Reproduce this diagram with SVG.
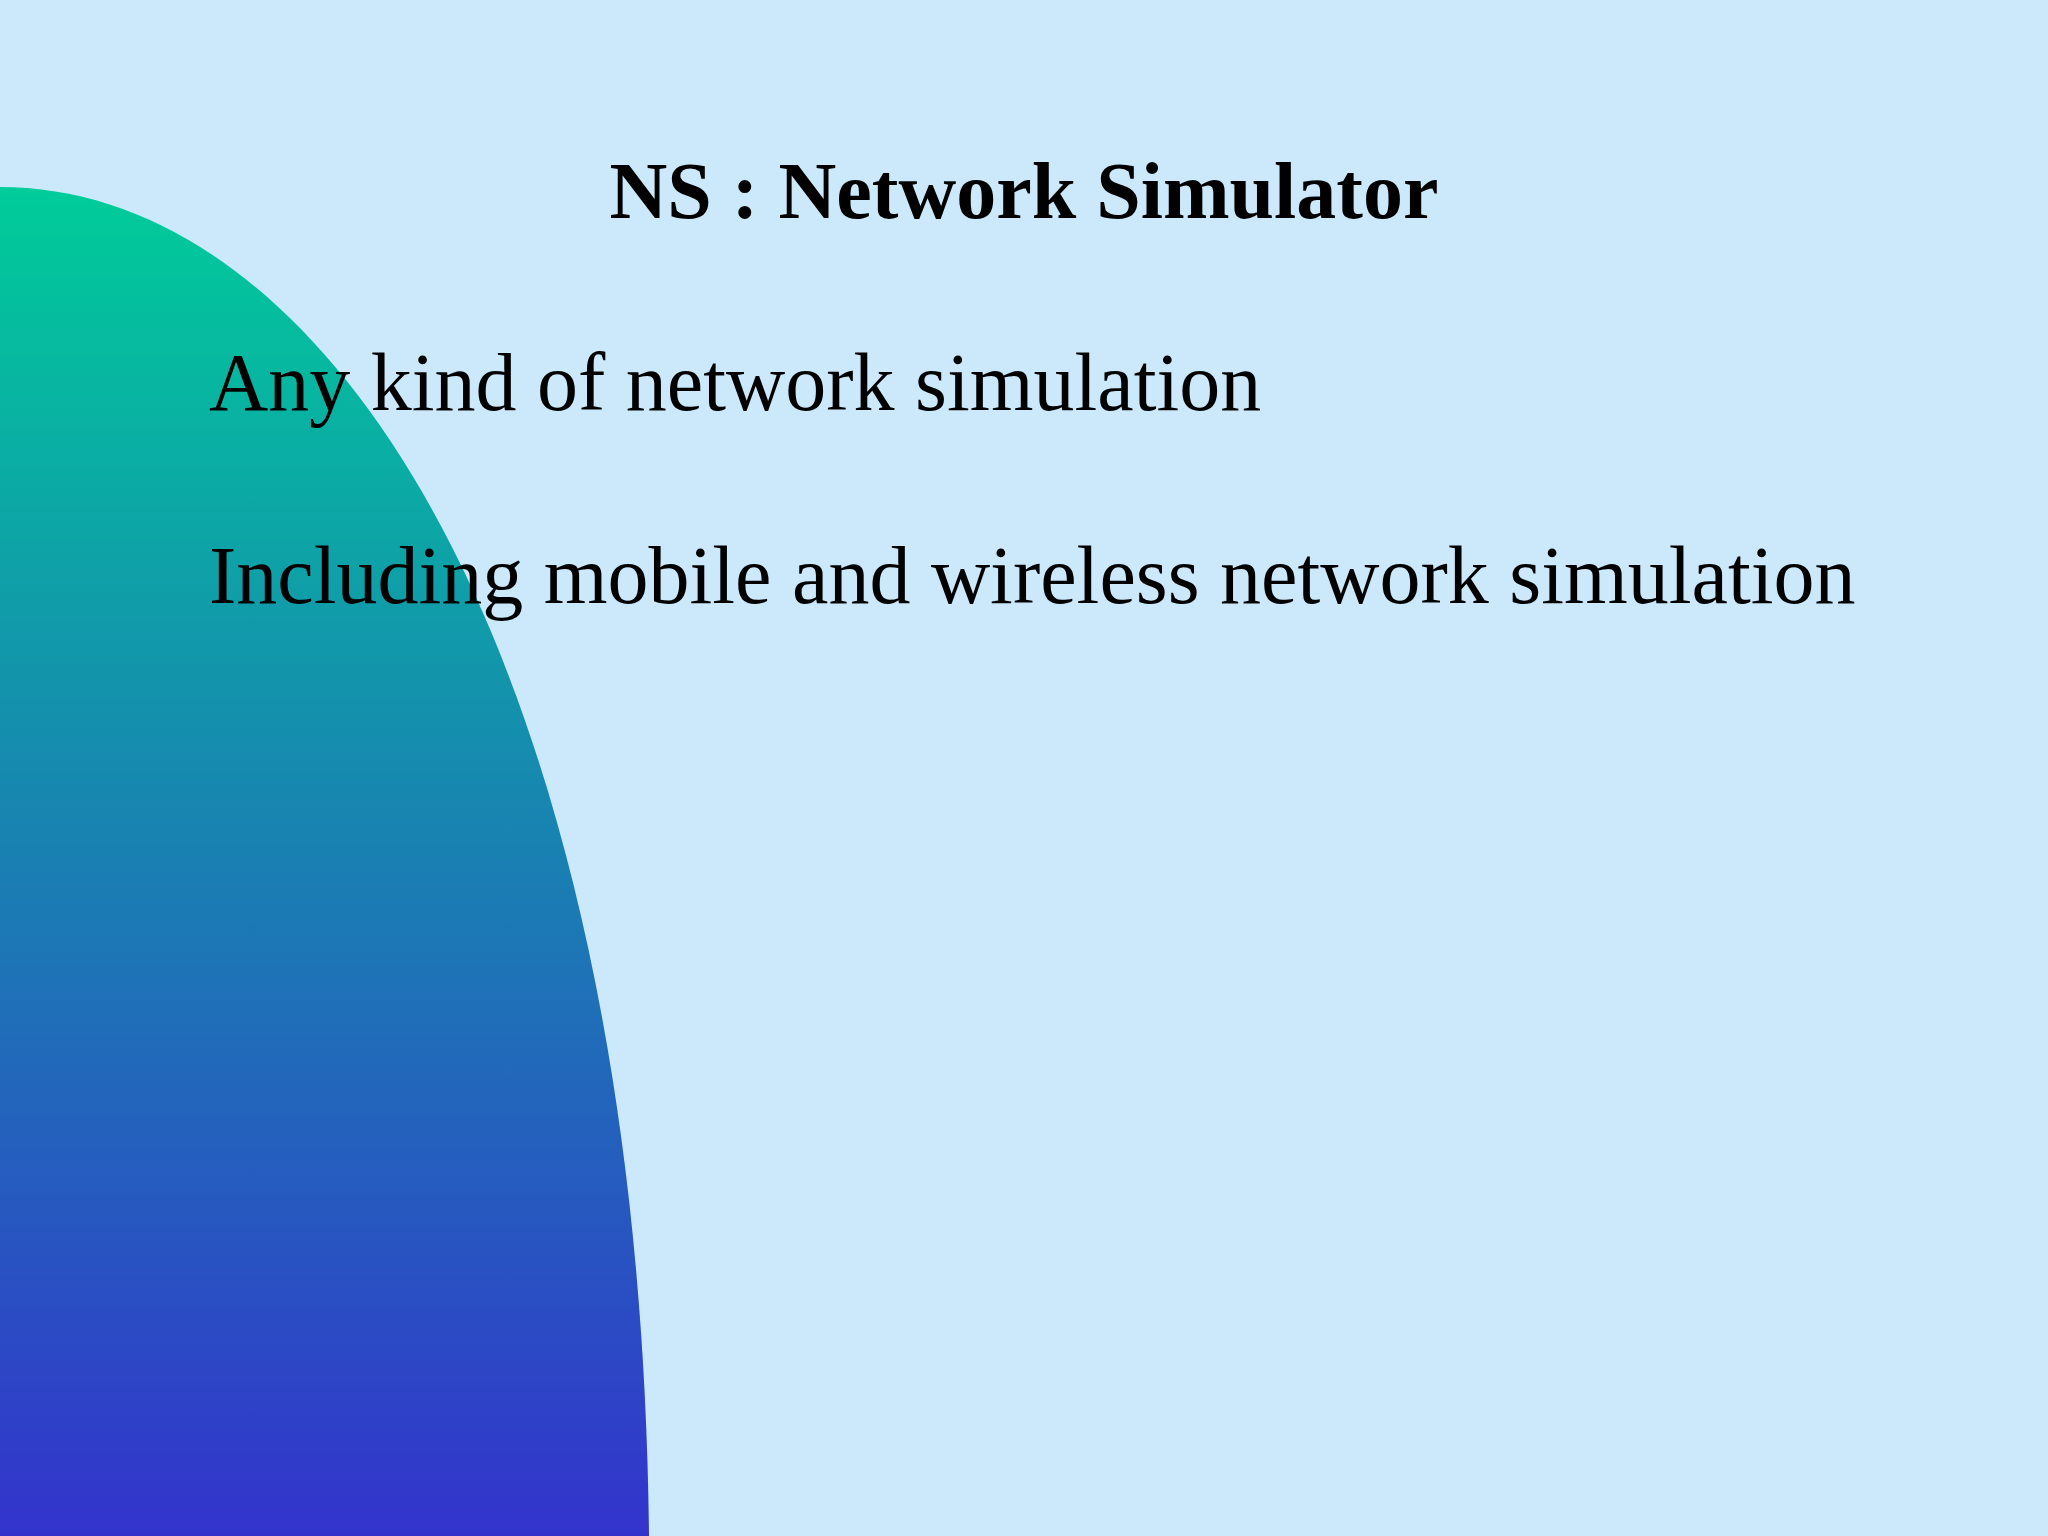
<svg xmlns="http://www.w3.org/2000/svg" width="2048" height="1536" viewBox="0 0 2048 1536">
<defs>
<linearGradient id="g" x1="0" y1="0" x2="0" y2="1">
<stop offset="0" stop-color="#00CC99"/>
<stop offset="1" stop-color="#3333CC"/>
</linearGradient>
<style>text{font-family:"Liberation Serif","Times New Roman",serif;fill:#000}</style>
</defs>
<rect width="2048" height="1536" fill="#CCE9FC"/>
<path d="M0,187 C340,187 640,680 649,1536 L0,1536 Z" fill="url(#g)"/>
<g id="title"><text x="1024" y="218" font-size="80" font-weight="bold" text-anchor="middle">NS : Network Simulator</text></g>
<g id="line1"><text x="209" y="410" font-size="82">Any kind of network simulation</text></g>
<g id="line2"><text x="209" y="603" font-size="82">Including mobile and wireless network simulation</text></g>
</svg>
